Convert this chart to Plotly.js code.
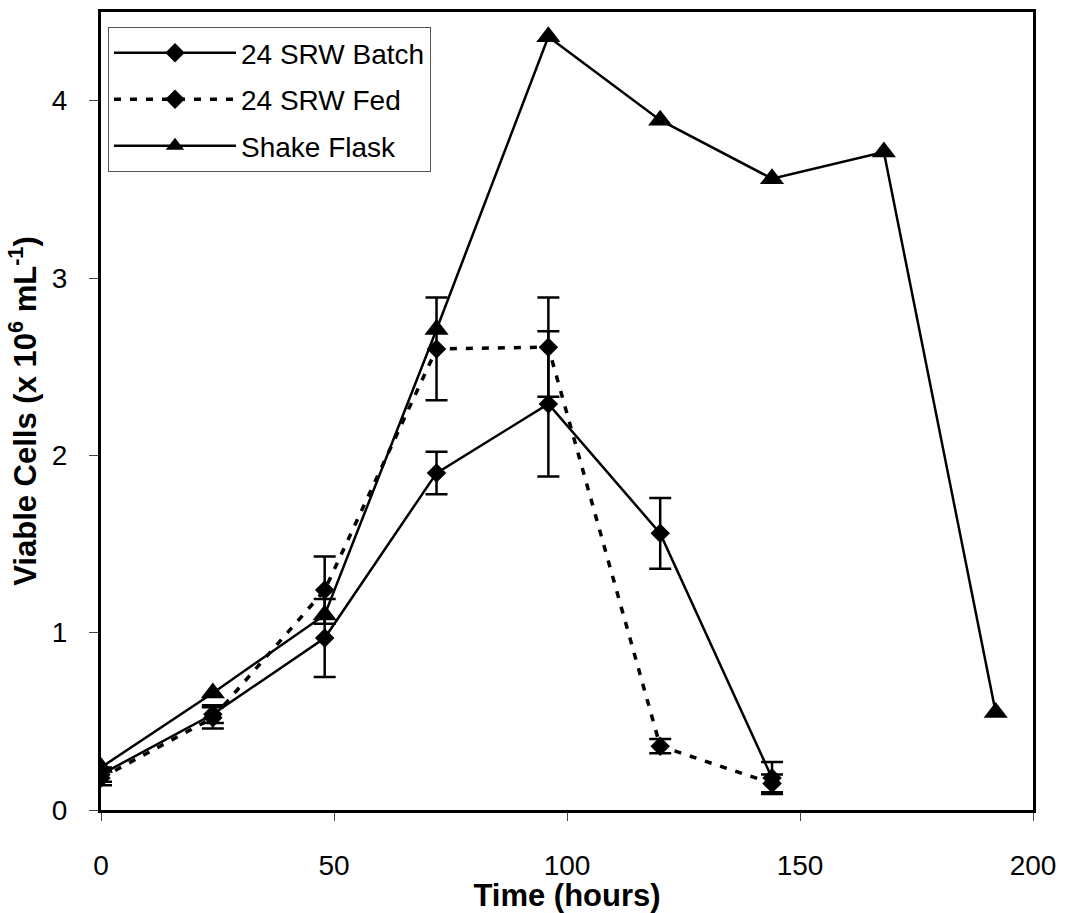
<!DOCTYPE html>
<html>
<head>
<meta charset="utf-8">
<script src="https://cdn.plot.ly/plotly-3.0.1.min.js"></script>
<style>html,body{margin:0;padding:0;background:#fff;}#chart{width:1070px;height:913px;}</style>
</head>
<body>
<div id="chart"></div>
<script>
// Time points (hours)
var timeSRW = [0, 24, 48, 72, 96, 120, 144];
var timeFlask = [0, 24, 48, 72, 96, 120, 144, 168, 192];

// Viable cells (x 10^6 mL^-1)
var batchValues = [0.20, 0.54, 0.97, 1.90, 2.29, 1.56, 0.18];
var batchErrors = [0.04, 0.05, 0.22, 0.12, 0.41, 0.20, 0.09];
var fedValues = [0.18, 0.52, 1.24, 2.60, 2.61, 0.36, 0.15];
var fedErrors = [0.04, 0.06, 0.19, 0.29, 0.28, 0.04, 0.05];
var flaskValues = [0.24, 0.66, 1.10, 2.71, 4.36, 3.89, 3.56, 3.71, 0.55];

var seriesNames = ['24 SRW Batch', '24 SRW Fed', 'Shake Flask'];
var xTicks = [0, 50, 100, 150, 200];
var yTicks = [0, 1, 2, 3, 4];

var FONT = 'Liberation Sans, Arial, sans-serif';

var traces = [
  {
    x: timeSRW, y: batchValues, name: seriesNames[0], legendgroup: 'a',
    type: 'scatter', mode: 'lines+markers',
    line: {color: '#000', width: 2.5},
    marker: {symbol: 'diamond', size: 15, color: '#000'},
    error_y: {type: 'data', array: batchErrors, visible: true, color: '#000', thickness: 2.5, width: 11}
  },
  {
    x: timeSRW, y: fedValues, name: seriesNames[1], legendgroup: 'b',
    type: 'scatter', mode: 'lines+markers',
    line: {color: '#000', width: 3.5, dash: '7px,9px'},
    marker: {symbol: 'diamond', size: 15, color: '#000'},
    error_y: {type: 'data', array: fedErrors, visible: true, color: '#000', thickness: 2.5, width: 11}
  },
  {
    x: timeFlask, y: flaskValues, name: seriesNames[2], legendgroup: 'c',
    type: 'scatter', mode: 'lines+markers',
    line: {color: '#000', width: 2.5},
    marker: {symbol: 'triangle-up', size: 21, color: '#000'}
  }
];

var layout = {
  width: 1070, height: 913,
  paper_bgcolor: '#fff', plot_bgcolor: '#fff',
  margin: {l: 101, r: 37, t: 12, b: 103, pad: 0},
  font: {family: FONT, color: '#000', size: 28},
  showlegend: true,
  legend: {
    x: 0.0075, y: 0.981, xanchor: 'left', yanchor: 'top',
    bgcolor: '#fff', bordercolor: '#555', borderwidth: 1,
    font: {family: FONT, size: 28, color: '#000'},
    traceorder: 'grouped', tracegroupgap: 7, itemwidth: 122
  },
  xaxis: {
    range: [0, 200], tickvals: xTicks, ticktext: xTicks.map(String),
    showgrid: false, zeroline: false,
    showline: true, linecolor: '#000', linewidth: 3, mirror: true,
    ticks: 'outside', ticklen: 8, tickwidth: 1, tickcolor: '#444',
    ticklabelstandoff: 20,
    tickfont: {family: FONT, size: 28, color: '#000'},
    title: {text: '<b>Time (hours)</b>', font: {family: FONT, size: 31, color: '#000'}, standoff: 12}
  },
  yaxis: {
    range: [0, 4.5], tickvals: yTicks, ticktext: yTicks.map(String),
    showgrid: false, zeroline: false,
    showline: true, linecolor: '#000', linewidth: 3, mirror: true,
    ticks: 'outside', ticklen: 9, tickwidth: 1, tickcolor: '#444',
    ticklabelstandoff: 16,
    tickfont: {family: FONT, size: 28, color: '#000'},
    title: {text: '<b>Viable Cells (x 10<sup>6</sup> mL<sup>-1</sup>)</b>', font: {family: FONT, size: 31, color: '#000'}, standoff: 6}
  }
};

Plotly.newPlot('chart', traces, layout, {displayModeBar: false, staticPlot: true});
</script>
</body>
</html>
